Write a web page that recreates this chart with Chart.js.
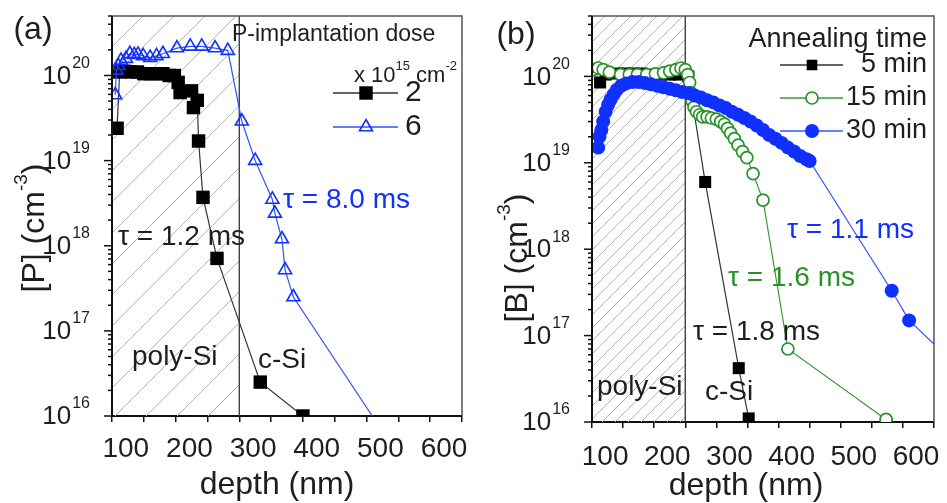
<!DOCTYPE html>
<html>
<head>
<meta charset="utf-8">
<script src="https://cdn.jsdelivr.net/npm/chart.js@4.4.1/dist/chart.umd.min.js"></script>
<style>
html, body { margin: 0; padding: 0; background: #fff; }
#wrap { position: relative; width: 947px; height: 503px; }
.panel { position: absolute; top: 0; }
</style>
</head>
<body>
<div id="wrap">
  <div class="panel" style="left:0"><canvas id="chartA" width="473" height="503"></canvas></div>
  <div class="panel" style="left:473px"><canvas id="chartB" width="474" height="503"></canvas></div>
</div>
<script>
const FONT = "'Liberation Sans', Arial, Helvetica, sans-serif";
const INK = '#1e1e1e';
const BLUE = '#1030ff';
const GREEN = '#2a912a';

/* ===== (a) P profiles, depth in nm, [P] in cm^-3 ===== */
const depthDose2 = [58, 62, 70, 80, 90, 100, 110, 120, 130, 140, 148, 154, 157, 175, 178, 184, 186, 193, 215, 283, 350];
const concDose2  = [2.4e19, 1.1e20, 1.12e20, 1.1e20, 1.1e20, 1.05e20, 1.05e20, 1.05e20, 1.05e20, 1.0e20, 1.0e20,
                    8.3e19, 6.3e19, 6.6e19, 4.2e19, 5.1e19, 1.7e19, 3.7e18, 7.1e17, 2.5e16, 1.0e16];
const depthDose6 = [55, 57, 60, 64, 72, 78, 85, 91, 99, 110, 120, 130, 152, 173, 191, 212, 232, 254, 275, 302, 306, 317, 322, 335, 459];
const concDose6  = [5.9e19, 1.15e20, 1.3e20, 1.5e20, 1.58e20, 1.8e20, 1.75e20, 1.77e20, 1.7e20, 1.62e20, 1.7e20, 1.8e20,
                    2.1e20, 2.2e20, 2.2e20, 2.1e20, 1.96e20, 2.9e19, 1.0e19, 3.5e18, 2.4e18, 1.2e18, 5.2e17, 2.5e17, 1.0e16];

/* ===== (b) B profiles for three annealing times ===== */
const depth5min = [63, 72, 90, 103, 116, 130, 145, 160, 175, 190, 205, 232, 286, 302];
const conc5min  = [8.5e19, 1.05e20, 1.08e20, 1.08e20, 1.08e20, 1.08e20, 1.05e20, 1.05e20, 1.05e20, 1.05e20, 1.0e20, 6.0e18, 4.2e16, 1.1e16];
const depth15min = [52, 60, 68, 78, 96, 110, 123, 138, 152, 165, 175, 185, 193, 200, 204, 207, 209, 211, 214,
                    218, 223, 228, 235, 242, 250, 257, 263, 268, 273, 279, 285, 292, 299, 309, 325, 365, 523];
const conc15min  = [1.2e20, 1.25e20, 1.2e20, 1.12e20, 1.05e20, 1.05e20, 1.05e20, 1.05e20, 1.07e20,
                    1.1e20, 1.15e20, 1.2e20, 1.25e20, 1.2e20, 1.05e20, 8.5e19, 6.5e19, 5.2e19, 4.4e19, 3.9e19, 3.6e19, 3.4e19,
                    3.4e19, 3.3e19, 3.2e19, 3.0e19, 2.8e19, 2.5e19, 2.2e19, 1.9e19, 1.6e19, 1.35e19, 1.15e19, 7.5e18, 3.7e18, 7.0e16, 1.07e16];
const depth30min = [60, 62, 65, 68, 72, 76, 80, 85, 90, 97, 105, 115, 125, 135, 145, 155, 165, 175, 185, 195, 205, 215, 225,
                    235, 245, 255, 265, 275, 285, 295, 305, 315, 325, 335, 345, 355, 365, 375, 385, 395, 400, 532, 560, 600];
const conc30min  = [1.5e19, 2.0e19, 2.4e19, 3.0e19, 3.9e19, 4.7e19, 5.4e19, 6.2e19, 7.0e19, 7.8e19, 8.3e19, 8.6e19, 8.6e19,
                    8.4e19, 8.1e19, 7.8e19, 7.5e19, 7.2e19, 6.9e19, 6.6e19, 6.4e19, 6.0e19, 5.7e19, 5.3e19, 5.0e19, 4.6e19,
                    4.3e19, 3.9e19, 3.6e19, 3.3e19, 3.0e19, 2.7e19, 2.4e19, 2.1e19, 1.9e19, 1.7e19, 1.5e19, 1.35e19, 1.2e19,
                    1.1e19, 1.05e19, 3.3e17, 1.5e17, 8.0e16];

/* ===== axes ===== */
const xTickValues = [100, 200, 300, 400, 500, 600];
const yExponents = [16, 17, 18, 19, 20];
const polySiEndA = 250;
const polySiEndB = 200;

function pts(xs, ys){ return xs.map((x, i) => ({ x: x, y: ys[i] })); }
// last point only ends the fitted line, no marker there
function noLastMarker(r){ return c => c.dataIndex === c.dataset.data.length - 1 ? 0 : r; }

/* ================= DRAW HELPERS ================= */
function txt(ctx, s, x, y, size, color, align){
    ctx.font = size + 'px ' + FONT;
    ctx.fillStyle = color || INK;
    ctx.textAlign = align || 'left';
    ctx.textBaseline = 'middle';
    ctx.fillText(s, x, y);
}

// parts: [text, isSuperscript]
function rich(ctx, parts, x, y, size, align, color){
    const sup = Math.round(size * 0.6);
    let w = 0;
    parts.forEach(p => { ctx.font = (p[1] ? sup : size) + 'px ' + FONT; w += ctx.measureText(p[0]).width; });
    let cx = align === 'right' ? x - w : align === 'center' ? x - w / 2 : x;
    ctx.fillStyle = color || INK;
    ctx.textAlign = 'left';
    ctx.textBaseline = 'middle';
    parts.forEach(p => {
        ctx.font = (p[1] ? sup : size) + 'px ' + FONT;
        ctx.fillText(p[0], cx, p[1] ? y - size * 0.42 : y);
        cx += ctx.measureText(p[0]).width;
    });
}

function marker(ctx, style, x, y, r, fill, stroke, lw){
    ctx.beginPath();
    if(style === 'rect'){
        const s = r * Math.SQRT1_2;
        ctx.rect(x - s, y - s, 2 * s, 2 * s);
    } else if(style === 'triangle'){
        ctx.moveTo(x, y - r);
        ctx.lineTo(x + r * 0.866, y + r / 2);
        ctx.lineTo(x - r * 0.866, y + r / 2);
        ctx.closePath();
    } else {
        ctx.arc(x, y, r, 0, Math.PI * 2);
    }
    if(fill){ ctx.fillStyle = fill; ctx.fill(); }
    if(lw){ ctx.lineWidth = lw; ctx.strokeStyle = stroke; ctx.stroke(); }
}

/* ================= PLUGIN: hatch, frame, y axis, texts ================= */
const decoPlugin = {
    id: 'deco',
    beforeDatasetsDraw(chart, args, o){
        const ctx = chart.ctx, a = chart.chartArea;
        const xb = chart.scales.x.getPixelForValue(o.boundary);
        const h = a.bottom - a.top;
        ctx.save();
        ctx.beginPath();
        ctx.rect(a.left, a.top, xb - a.left, h);
        ctx.clip();
        ctx.strokeStyle = '#b4b4b4';
        ctx.lineWidth = 1;
        for(let s = a.left - h; s < xb; s += o.hatch){
            ctx.beginPath();
            ctx.moveTo(s, a.bottom);
            ctx.lineTo(s + h, a.top);
            ctx.stroke();
        }
        ctx.restore();
        ctx.save();
        ctx.strokeStyle = '#333';
        ctx.lineWidth = 1.3;
        ctx.beginPath();
        ctx.moveTo(xb, a.top);
        ctx.lineTo(xb, a.bottom);
        ctx.stroke();
        ctx.restore();
    },
    afterDraw(chart, args, o){
        const ctx = chart.ctx, a = chart.chartArea, y = chart.scales.y;
        ctx.save();
        // frame
        ctx.strokeStyle = '#555';
        ctx.lineWidth = 1.5;
        ctx.beginPath();
        ctx.moveTo(a.left, a.top); ctx.lineTo(a.right, a.top); ctx.lineTo(a.right, a.bottom);
        ctx.stroke();
        ctx.strokeStyle = '#111';
        ctx.lineWidth = 2;
        ctx.beginPath();
        ctx.moveTo(a.left, a.top); ctx.lineTo(a.left, a.bottom + 1);
        ctx.stroke();

        // log ticks
        ctx.lineWidth = 1.5;
        yExponents.concat([21]).forEach(e => {
            for(let m = 1; m <= 9; m++){
                const v = m * Math.pow(10, e);
                if(v < y.min || v > y.max) continue;
                const py = y.getPixelForValue(v);
                ctx.beginPath();
                ctx.moveTo(a.left, py);
                ctx.lineTo(a.left - (m === 1 ? 8 : 4), py);
                ctx.stroke();
            }
        });
        // decade labels
        yExponents.forEach(e => {
            const py = y.getPixelForValue(Math.pow(10, e));
            ctx.font = '16px ' + FONT;
            const ew = ctx.measureText(String(e)).width;
            txt(ctx, String(e), a.left - o.yLabelGap, py - 12, 16, INK, 'right');
            txt(ctx, '10', a.left - o.yLabelGap - ew - 1, py + 1, 26, INK, 'right');
        });

        // axis titles
        txt(ctx, 'depth (nm)', o.xTitle.x, o.xTitle.y, 32, INK, 'center');
        ctx.save();
        ctx.translate(o.yTitle.x, o.yTitle.y);
        ctx.rotate(-Math.PI / 2);
        rich(ctx, o.yTitle.parts, 0, 0, 32, 'center', INK);
        ctx.restore();

        // notes
        o.notes.forEach(n => {
            if(n.parts) rich(ctx, n.parts, n.x, n.y, n.size, n.align, n.color);
            else txt(ctx, n.text, n.x, n.y, n.size, n.color, n.align);
        });

        // legend
        const L = o.legend;
        L.items.forEach(it => {
            const ds = chart.data.datasets[it.ds];
            ctx.strokeStyle = ds.borderColor;
            ctx.lineWidth = 1.3;
            ctx.beginPath();
            ctx.moveTo(L.x1, it.y); ctx.lineTo(L.x2, it.y);
            ctx.stroke();
            marker(ctx, ds.pointStyle, L.mx, it.y, it.r, ds.pointBackgroundColor,
                   ds.pointBorderColor, ds.pointBorderWidth);
            txt(ctx, it.label, L.lx, it.y, L.size, INK, L.align);
        });
        ctx.restore();
    }
};

/* ================= CHART FACTORY ================= */
function makePanel(id, datasets, geom, deco){
    return new Chart(document.getElementById(id), {
        type: 'line',
        data: { datasets: datasets },
        plugins: [decoPlugin],
        options: {
            responsive: false,
            animation: false,
            events: [],
            layout: { padding: { left: 0, right: geom.right, top: geom.top, bottom: 0 } },
            plugins: { legend: { display: false }, tooltip: { enabled: false }, deco: deco },
            scales: {
                x: {
                    type: 'linear',
                    min: 50, max: 600,
                    border: { display: true, color: '#111', width: 2 },
                    grid: { display: true, drawOnChartArea: false, drawTicks: true, tickLength: 6, color: '#111', lineWidth: 1.5 },
                    ticks: {
                        stepSize: 50,
                        autoSkip: false,
                        maxRotation: 0,
                        minRotation: 0,
                        labelOffset: -18,
                        padding: geom.tickPad,
                        color: INK,
                        font: { family: FONT, size: 28 },
                        callback: v => xTickValues.includes(v) ? String(v) : ''
                    },
                    title: { display: false },
                    afterFit: s => { s.height = geom.xHeight; s.paddingLeft = 0; s.paddingRight = 0; }
                },
                y: {
                    type: 'logarithmic',
                    min: 1e16, max: 5e20,
                    border: { display: false },
                    grid: { display: false },
                    ticks: { display: false },
                    afterFit: s => { s.width = geom.yWidth; }
                }
            }
        }
    });
}

/* ================= (a) ================= */
makePanel('chartA', [
    {
        label: '6', order: 0,
        data: pts(depthDose6, concDose6),
        borderColor: '#3050ff', borderWidth: 1.2,
        pointStyle: 'triangle', pointRadius: noLastMarker(7.5),
        pointBackgroundColor: 'rgba(255,255,255,0)', pointBorderColor: BLUE, pointBorderWidth: 1.6
    },
    {
        label: '2', order: 1,
        data: pts(depthDose2, concDose2),
        borderColor: '#333', borderWidth: 1.2,
        pointStyle: 'rect', pointRadius: 9.5,
        pointBackgroundColor: '#000', pointBorderColor: '#000', pointBorderWidth: 0
    }
], { right: 11, top: 16, xHeight: 87, yWidth: 112, tickPad: 10 }, {
    boundary: polySiEndA,
    hatch: 31,
    yLabelGap: 22,
    xTitle: { x: 277, y: 485 },
    yTitle: { x: 35, y: 228, parts: [['[P] (cm', false], ['-3', true], [')', false]] },
    notes: [
        { text: '(a)', x: 33, y: 30, size: 32, align: 'center' },
        { text: 'P-implantation dose', x: 232, y: 35, size: 23, align: 'left' },
        { parts: [['x 10', false], ['15', true], [' cm', false], ['-2', true]], x: 457, y: 76, size: 22, align: 'right' },
        { text: 'τ = 8.0 ms', x: 283, y: 200, size: 28, align: 'left', color: BLUE },
        { text: 'τ = 1.2 ms', x: 118, y: 237, size: 28, align: 'left' },
        { text: 'poly-Si', x: 132, y: 357, size: 28, align: 'left' },
        { text: 'c-Si', x: 258, y: 360, size: 28, align: 'left' }
    ],
    legend: {
        x1: 333, x2: 398, mx: 366, lx: 405, align: 'left', size: 30,
        items: [
            { ds: 1, label: '2', y: 93, r: 9.5 },
            { ds: 0, label: '6', y: 127, r: 7.5 }
        ]
    }
});

/* ================= (b) ================= */
makePanel('chartB', [
    {
        label: '30 min', order: 0,
        data: pts(depth30min, conc30min),
        borderColor: '#3355ff', borderWidth: 1.2,
        pointStyle: 'circle', pointRadius: noLastMarker(7),
        pointBackgroundColor: BLUE, pointBorderColor: BLUE, pointBorderWidth: 0
    },
    {
        label: '15 min', order: 1,
        data: pts(depth15min, conc15min),
        borderColor: '#3a9a3a', borderWidth: 1.2,
        pointStyle: 'circle', pointRadius: 6,
        pointBackgroundColor: '#fff', pointBorderColor: GREEN, pointBorderWidth: 1.7
    },
    {
        label: '5 min', order: 2,
        data: pts(depth5min, conc5min),
        borderColor: '#333', borderWidth: 1.2,
        pointStyle: 'rect', pointRadius: 8.5,
        pointBackgroundColor: '#000', pointBorderColor: '#000', pointBorderWidth: 0
    }
], { right: 13, top: 16, xHeight: 81, yWidth: 119, tickPad: 12 }, {
    boundary: polySiEndB,
    hatch: 13,
    yLabelGap: 22,
    xTitle: { x: 273, y: 486 },
    yTitle: { x: 45, y: 258, parts: [['[B] (cm', false], ['-3', true], [')', false]] },
    notes: [
        { text: '(b)', x: 43, y: 35, size: 32, align: 'center' },
        { text: 'Annealing time', x: 454, y: 40, size: 27, align: 'right' },
        { text: 'τ = 1.1 ms', x: 314, y: 230, size: 28, align: 'left', color: BLUE },
        { text: 'τ = 1.6 ms', x: 255, y: 278, size: 28, align: 'left', color: GREEN },
        { text: 'τ = 1.8 ms', x: 220, y: 332, size: 28, align: 'left' },
        { text: 'poly-Si', x: 124, y: 387, size: 28, align: 'left' },
        { text: 'c-Si', x: 232, y: 392, size: 28, align: 'left' }
    ],
    legend: {
        x1: 307, x2: 370, mx: 339, lx: 454, align: 'right', size: 27,
        items: [
            { ds: 2, label: '5 min', y: 65, r: 7.5 },
            { ds: 1, label: '15 min', y: 98, r: 6 },
            { ds: 0, label: '30 min', y: 131, r: 7 }
        ]
    }
});
</script>
</body>
</html>
